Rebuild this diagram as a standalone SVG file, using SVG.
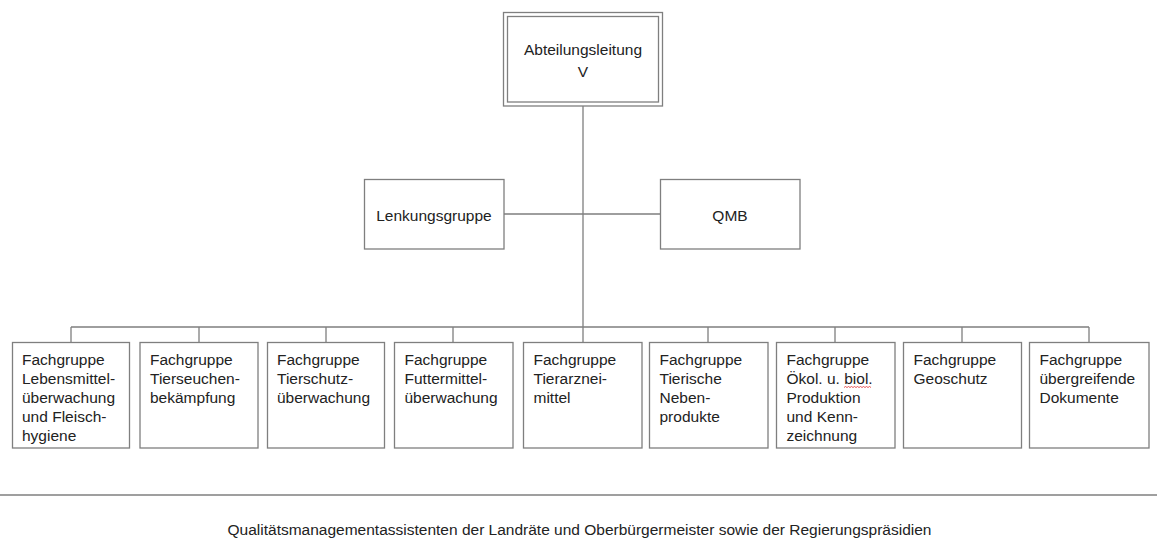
<svg xmlns="http://www.w3.org/2000/svg" width="1157" height="557" viewBox="0 0 1157 557">
<style>
.box{fill:#fff;stroke:#7f7f7f;stroke-width:1.3}
.ln{fill:none;stroke:#7f7f7f;stroke-width:1.3}
text{font-family:"Liberation Sans",Arial,sans-serif;font-size:15.5px;fill:#222}
.c{text-anchor:middle}
</style>
<rect width="1157" height="557" fill="#fff"/>
<g id="connectors">
<path class="ln" d="M583,106 V342 M504,214 H660 M71,327 H1089 M71,327 V342 M199,327 V342 M326,327 V342 M453,327 V342 M708,327 V342 M835,327 V342 M962,327 V342 M1089,327 V342"/>
</g>
<g id="abteilungsleitung">
<rect class="box" x="503.5" y="12.5" width="159" height="93.5" stroke-width="1.6"/>
<rect class="box" x="507.5" y="16.5" width="151" height="85.5"/>
<text class="c" x="583" y="55">Abteilungsleitung</text>
<text class="c" x="583" y="76.5">V</text>
</g>
<g id="lenkungsgruppe">
<rect class="box" x="364.5" y="179.5" width="139.5" height="69.5"/>
<text class="c" x="434" y="221">Lenkungsgruppe</text>
</g>
<g id="qmb">
<rect class="box" x="660.5" y="179.5" width="139.5" height="69.5"/>
<text class="c" x="730" y="221">QMB</text>
</g>
<g id="fg1">
<rect class="box" x="12.5" y="342.5" width="117" height="105.5"/>
<text x="22" y="364.5">Fachgruppe</text><text x="22" y="383.5">Lebensmittel-</text><text x="22" y="402.5">überwachung</text><text x="22" y="421.5">und Fleisch-</text><text x="22" y="440.5">hygiene</text>
</g>
<g id="fg2">
<rect class="box" x="140" y="342.5" width="118" height="105.5"/>
<text x="150" y="364.5">Fachgruppe</text><text x="150" y="383.5">Tierseuchen-</text><text x="150" y="402.5">bekämpfung</text>
</g>
<g id="fg3">
<rect class="box" x="267.5" y="342.5" width="117" height="105.5"/>
<text x="277" y="364.5">Fachgruppe</text><text x="277" y="383.5">Tierschutz-</text><text x="277" y="402.5">überwachung</text>
</g>
<g id="fg4">
<rect class="box" x="394.5" y="342.5" width="118.5" height="105.5"/>
<text x="404.5" y="364.5">Fachgruppe</text><text x="404.5" y="383.5">Futtermittel-</text><text x="404.5" y="402.5">überwachung</text>
</g>
<g id="fg5">
<rect class="box" x="523.5" y="342.5" width="118.5" height="105.5"/>
<text x="533.5" y="364.5">Fachgruppe</text><text x="533.5" y="383.5">Tierarznei-</text><text x="533.5" y="402.5">mittel</text>
</g>
<g id="fg6">
<rect class="box" x="649.5" y="342.5" width="118.5" height="105.5"/>
<text x="659.5" y="364.5">Fachgruppe</text><text x="659.5" y="383.5">Tierische</text><text x="659.5" y="402.5">Neben-</text><text x="659.5" y="421.5">produkte</text>
</g>
<g id="fg7">
<rect class="box" x="776.5" y="342.5" width="118.5" height="105.5"/>
<text x="786.5" y="364.5">Fachgruppe</text><text x="786.5" y="383.5">Ökol. u. biol.</text><text x="786.5" y="402.5">Produktion</text><text x="786.5" y="421.5">und Kenn-</text><text x="786.5" y="440.5">zeichnung</text>
<path d="M844,387.5 l1.5,-1 l1.5,1 l1.5,-1 l1.5,1 l1.5,-1 l1.5,1 l1.5,-1 l1.5,1 l1.5,-1 l1.5,1 l1.5,-1 l1.5,1 l1.5,-1 l1.5,1 l1.5,-1 l1.5,1 l1.5,-1 l1.5,1" fill="none" stroke="#e03030" stroke-width="0.8"/>
</g>
<g id="fg8">
<rect class="box" x="903.5" y="342.5" width="118" height="105.5"/>
<text x="913.5" y="364.5">Fachgruppe</text><text x="913.5" y="383.5">Geoschutz</text>
</g>
<g id="fg9">
<rect class="box" x="1029.5" y="342.5" width="119.5" height="105.5"/>
<text x="1039.5" y="364.5">Fachgruppe</text><text x="1039.5" y="383.5">übergreifende</text><text x="1039.5" y="402.5">Dokumente</text>
</g>
<g id="footer">
<path class="ln" d="M0,495 H1157" stroke-width="1.5"/>
<text class="c" x="579.5" y="534.5">Qualitätsmanagementassistenten der Landräte und Oberbürgermeister sowie der Regierungspräsidien</text>
</g>
</svg>
